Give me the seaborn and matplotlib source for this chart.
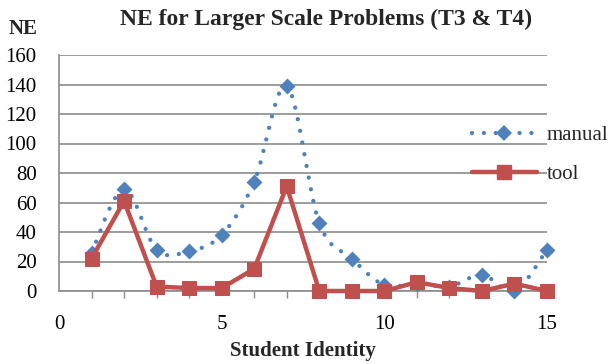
import numpy as np
import pandas as pd
import matplotlib
matplotlib.use("Agg")
import matplotlib.pyplot as plt
import seaborn as sns
from matplotlib.lines import Line2D

students = [1, 2, 3, 4, 5, 6, 7, 8, 9, 10, 11, 12, 13, 14, 15]
manual = [26, 69, 28, 27, 38, 74, 139, 46, 22, 4, 5, 3, 11, 0, 28]
tool = [22, 61, 3, 2, 2, 15, 71, 0, 0, 0, 6, 2, 0, 5, 0]
x_ticks = [0, 5, 10, 15]
y_ticks = [0, 20, 40, 60, 80, 100, 120, 140, 160]

BLUE = "#4F81BD"
RED = "#C0504D"
GRID = "#8C8C8C"
DOTS = (0, (0.01, 2.75))

sns.set_theme(style="white")
plt.rcParams["font.family"] = ["Liberation Serif", "DejaVu Serif"]

df = pd.DataFrame({"student": students, "manual": manual, "tool": tool})


def smooth(xs, ys, n=30):
    # Catmull-Rom style Bezier through the points (smoothed line series)
    xs = np.asarray(xs, float)
    ys = np.asarray(ys, float)
    px = np.concatenate([[xs[0]], xs, [xs[-1]]])
    py = np.concatenate([[ys[0]], ys, [ys[-1]]])
    out_x, out_y = [], []
    t = np.linspace(0, 1, n, endpoint=False)[:, None]
    for i in range(1, len(px) - 2):
        p0, p1, p2, p3 = (np.array([px[j], py[j]]) for j in (i - 1, i, i + 1, i + 2))
        c1 = p1 + (p2 - p0) / 6
        c2 = p2 - (p3 - p1) / 6
        pts = ((1 - t) ** 3) * p1 + 3 * ((1 - t) ** 2) * t * c1 + 3 * (1 - t) * t ** 2 * c2 + t ** 3 * p2
        out_x.extend(pts[:, 0])
        out_y.extend(pts[:, 1])
    out_x.append(xs[-1])
    out_y.append(ys[-1])
    return np.array(out_x), np.array(out_y)


fig = plt.figure(figsize=(6.11, 3.64), dpi=100)
ax = fig.add_axes([59 / 611, 1 - 291 / 364, (547 - 59) / 611, (291 - 55) / 364])

sx, sy = smooth(df["student"], df["manual"])
ax.plot(sx, sy, color=BLUE, lw=3.1, linestyle=DOTS, dash_capstyle="round", zorder=3, clip_on=False)
sns.scatterplot(data=df, x="student", y="manual", marker="D", s=66, color=BLUE,
                edgecolor=BLUE, linewidth=0, ax=ax, zorder=4, legend=False, clip_on=False)
sns.lineplot(data=df, x="student", y="tool", color=RED, lw=3.2, marker="s",
             markersize=9.5, markeredgecolor=RED, ax=ax, zorder=5, legend=False, clip_on=False)

ax.set_xlim(0, 15)
ax.set_ylim(0, 160)
ax.set_xticks(x_ticks)
ax.set_xticks(students, minor=True)
ax.set_yticks(y_ticks)
ax.yaxis.grid(True, color=GRID, lw=1.2)
ax.set_axisbelow(True)
for s in ["top", "right"]:
    ax.spines[s].set_visible(False)
for s in ["left", "bottom"]:
    ax.spines[s].set_color(GRID)
    ax.spines[s].set_linewidth(1.2)
ax.tick_params(axis="both", which="both", direction="out", color=GRID, width=1.0,
               labelsize=15, labelcolor="black")
ax.tick_params(axis="y", length=5, pad=11)
ax.tick_params(axis="x", which="both", length=5, pad=12)
ax.tick_params(axis="x", which="minor", bottom=True)
ax.set_xlabel("Student Identity", fontsize=15, fontweight="bold")
ax.xaxis.set_label_coords(0.5, (291 - 351) / 236)
ax.xaxis.label.set_va("center")
ax.set_ylabel("")
fig.text(23 / 611, 1 - 29 / 364, "NE", ha="center", va="center", fontsize=15, fontweight="bold")
fig.text(326 / 611, 1 - 19 / 364, "NE for Larger Scale Problems (T3 & T4)",
         ha="center", va="center", fontsize=17, fontweight="bold")

handles = [
    Line2D([], [], color=BLUE, lw=3.1, linestyle=DOTS, dash_capstyle="round",
           marker="D", markersize=8, markeredgewidth=0),
    Line2D([], [], color=RED, lw=3.2, marker="s", markersize=9.5),
]
fig.legend(handles, ["manual", "tool"], loc="center left", bbox_to_anchor=(472 / 611, 1 - 155 / 364),
           frameon=False, fontsize=15, handlelength=3.1, handletextpad=0.5, labelspacing=0.95,
           borderaxespad=0, borderpad=0)

fig.savefig("out.png", dpi=100)
